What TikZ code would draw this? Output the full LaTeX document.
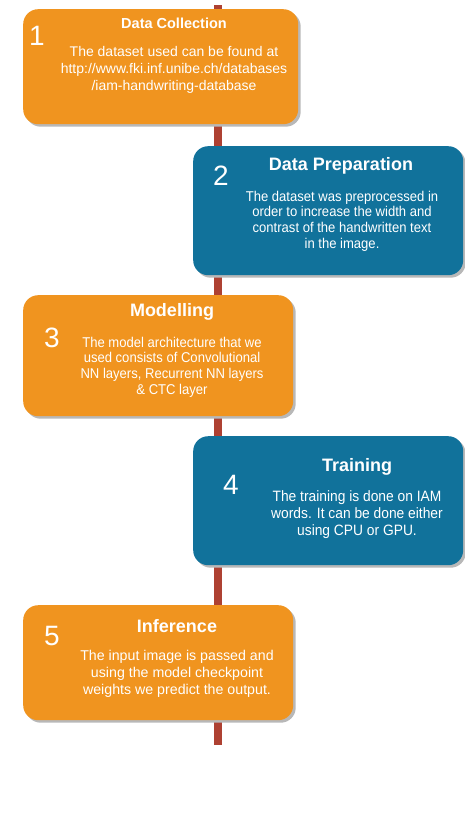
\documentclass[tikz,border=0pt]{standalone}
\usepackage{fontspec}
\setmainfont{Liberation Sans}
\newfontfamily\narrowsf[FakeStretch=0.92]{Liberation Sans}
\usetikzlibrary{shadows}
\definecolor{stepOrange}{HTML}{F0941F}
\definecolor{stepBlue}{HTML}{11729B}
\definecolor{spineRed}{HTML}{AE4132}
\tikzset{
  stepbox/.style = {rounded corners=15pt, inner sep=0pt, anchor=north west,
    drop shadow={shadow xshift=2.5pt, shadow yshift=-2.5pt, fill=black!28, opacity=1}},
  box_o/.style = {stepbox, fill=stepOrange},
  box_b/.style = {stepbox, fill=stepBlue},
  num/.style = {white, inner sep=0pt, font=\fontsize{28}{28}\selectfont},
  ttl/.style = {white, inner sep=0pt, font=\bfseries\fontsize{18}{18}\selectfont},
  body/.style = {white, inner sep=0pt, align=center, font=\fontsize{14.2}{17}\selectfont},
  body_n/.style = {body, font=\narrowsf\fontsize{14.2}{15.6}\selectfont},
  spine/.style = {line width=8pt, spineRed},
}
\begin{document}
\begin{tikzpicture}[x=1pt, y=-1pt]
  \useasboundingbox (0,0) rectangle (465,838);
  \coordinate (top) at (217.5,5);
  \coordinate (bot) at (217.5,745);
  \draw [spine] (top) -- (bot);

  % step 1
  \node [box_o, minimum width=275pt, minimum height=115pt] (dc) at (23,9) {};
  \node [num] (dcN) at (37,36) {1};
  \node [ttl, font=\bfseries\fontsize{14.5}{14.5}\selectfont] (dcT) at (174,23) {Data Collection};
  \node [body, font=\fontsize{14}{17}\selectfont] (dcB) at (174,70) {The dataset used can be found at\\
    http://www.fki.inf.unibe.ch/databases\\/iam-handwriting-database};

  % step 2
  \node [box_b, minimum width=270pt, minimum height=129pt] (dp) at (193,146) {};
  \node [num] (dpN) at (221,176) {2};
  \node [ttl] (dpT) at (341,166) {Data Preparation};
  \node [body_n] (dpB) at (342,221) {The dataset was preprocessed in\\
    order to increase the width and\\contrast of the handwritten text\\in the image.};

  % step 3
  \node [box_o, minimum width=270pt, minimum height=121pt] (md) at (23,295) {};
  \node [num] (mdN) at (52,338) {3};
  \node [ttl] (mdT) at (172,312) {Modelling};
  \node [body_n] (mdB) at (172,367) {The model architecture that we\\
    used consists of Convolutional\\NN layers, Recurrent NN layers\\\& CTC layer};

  % step 4
  \node [box_b, minimum width=270pt, minimum height=129pt] (tr) at (193,436) {};
  \node [num] (trN) at (231,485) {4};
  \node [ttl] (trT) at (357,467) {Training};
  \node [body_n, font=\narrowsf\fontsize{15}{17}\selectfont] (trB) at (357,515) {The training is done on IAM\\
    words. It can be done either\\using CPU or GPU.};

  % step 5
  \node [box_o, minimum width=270pt, minimum height=115pt] (in) at (23,605) {};
  \node [num] (inN) at (52,636) {5};
  \node [ttl] (inT) at (177,626) {Inference};
  \node [body] (inB) at (177,674) {The input image is passed and\\
    using the model checkpoint\\weights we predict the output.};
\end{tikzpicture}
\end{document}
